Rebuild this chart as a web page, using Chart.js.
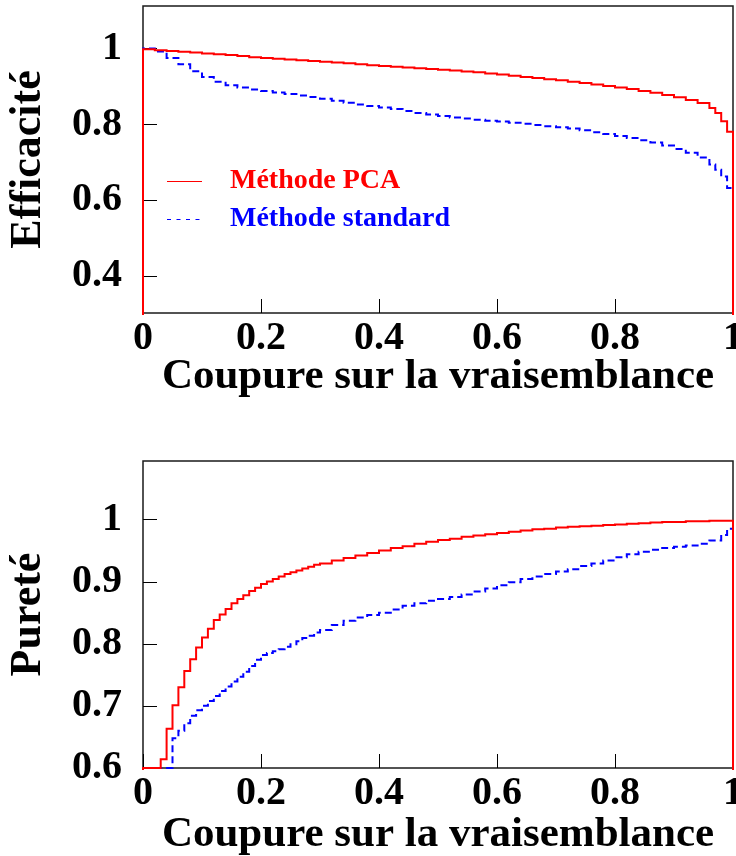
<!DOCTYPE html>
<html>
<head>
<meta charset="utf-8">
<script src="https://cdn.jsdelivr.net/npm/chart.js@4/dist/chart.umd.min.js"></script>
<style>
    html, body { margin: 0; padding: 0; background: #fff; overflow: hidden; }
    #wrap { position: relative; width: 736px; height: 856px; }
    canvas { position: absolute; left: 0; }
    #effChart { top: 0; }
    #purChart { top: 420px; }
</style>
</head>
<body>
<div id="wrap">
    <canvas id="effChart" width="736" height="420"></canvas>
    <canvas id="purChart" width="736" height="436"></canvas>
</div>
<script>
const seriesNames = ['Méthode PCA', 'Méthode standard'];
const xTickValues = [0, 0.2, 0.4, 0.6, 0.8, 1];
const effTickValues = [0.4, 0.6, 0.8, 1];
const purTickValues = [0.6, 0.7, 0.8, 0.9, 1];

// left edges of the bins, efficiency panel
const effCut = [0.00, 0.02, 0.04, 0.06, 0.08, 0.10, 0.12, 0.14, 0.16, 0.18,
    0.20, 0.22, 0.24, 0.26, 0.28, 0.30, 0.32, 0.34, 0.36, 0.38,
    0.40, 0.42, 0.44, 0.46, 0.48, 0.50, 0.52, 0.54, 0.56, 0.58,
    0.60, 0.62, 0.64, 0.66, 0.68, 0.70, 0.72, 0.74, 0.76, 0.78,
    0.80, 0.82, 0.84, 0.86, 0.88, 0.90, 0.92, 0.94,
    0.96, 0.97, 0.98, 0.99];
const effPCA = [0.998, 0.995, 0.993, 0.991, 0.989, 0.987, 0.985, 0.983, 0.980, 0.977,
    0.975, 0.973, 0.971, 0.969, 0.967, 0.965, 0.963, 0.961, 0.958, 0.956,
    0.954, 0.952, 0.950, 0.948, 0.946, 0.944, 0.942, 0.939, 0.937, 0.934,
    0.931, 0.928, 0.925, 0.922, 0.919, 0.916, 0.912, 0.909, 0.905, 0.901,
    0.897, 0.893, 0.888, 0.883, 0.877, 0.871, 0.864, 0.856,
    0.843, 0.830, 0.808, 0.780];
const effStd = [1.000, 0.992, 0.975, 0.958, 0.940, 0.925, 0.912, 0.903, 0.897, 0.892,
    0.888, 0.884, 0.880, 0.876, 0.872, 0.867, 0.862, 0.857, 0.852, 0.848,
    0.844, 0.840, 0.835, 0.830, 0.826, 0.822, 0.818, 0.815, 0.812, 0.809,
    0.807, 0.804, 0.801, 0.798, 0.795, 0.792, 0.789, 0.784, 0.779, 0.774,
    0.769, 0.764, 0.758, 0.752, 0.744, 0.735, 0.725, 0.712,
    0.694, 0.680, 0.662, 0.632];

// left edges of the bins, purity panel
const purCut = [0.00, 0.01, 0.02, 0.03, 0.04, 0.05, 0.06, 0.07, 0.08, 0.09,
    0.10, 0.11, 0.12, 0.13, 0.14, 0.15, 0.16, 0.17, 0.18, 0.19,
    0.20, 0.21, 0.22, 0.23, 0.24, 0.25, 0.26, 0.27, 0.28, 0.29, 0.30,
    0.32, 0.34, 0.36, 0.38, 0.40, 0.42, 0.44, 0.46, 0.48, 0.50,
    0.52, 0.54, 0.56, 0.58, 0.60, 0.62, 0.64, 0.66, 0.68, 0.70,
    0.72, 0.74, 0.76, 0.78, 0.80, 0.82, 0.84, 0.86, 0.88, 0.90,
    0.92, 0.94, 0.96, 0.98, 0.99];
const purPCA = [0.600, 0.600, 0.600, 0.614, 0.663, 0.701, 0.730, 0.756, 0.775, 0.794,
    0.810, 0.824, 0.838, 0.847, 0.856, 0.865, 0.872, 0.878, 0.885, 0.890,
    0.896, 0.900, 0.904, 0.908, 0.912, 0.915, 0.918, 0.921, 0.924, 0.927, 0.929,
    0.934, 0.938, 0.942, 0.946, 0.950, 0.954, 0.957, 0.961, 0.964, 0.967,
    0.969, 0.972, 0.974, 0.976, 0.978, 0.980, 0.982, 0.984, 0.985, 0.987,
    0.988, 0.989, 0.990, 0.991, 0.992, 0.993, 0.994, 0.995, 0.996, 0.996,
    0.997, 0.997, 0.998, 0.998, 0.998];
const purStd = [0.600, 0.600, 0.600, 0.600, 0.600, 0.648, 0.660, 0.672, 0.684, 0.693,
    0.700, 0.708, 0.716, 0.724, 0.731, 0.739, 0.747, 0.755, 0.764, 0.774,
    0.782, 0.785, 0.788, 0.791, 0.795, 0.799, 0.804, 0.809, 0.813, 0.818, 0.822,
    0.830, 0.837, 0.842, 0.846, 0.850, 0.855, 0.861, 0.865, 0.869, 0.872,
    0.875, 0.879, 0.884, 0.889, 0.894, 0.899, 0.904, 0.908, 0.912, 0.916,
    0.920, 0.925, 0.929, 0.934, 0.939, 0.944, 0.948, 0.951, 0.954, 0.956,
    0.958, 0.961, 0.966, 0.975, 0.985];

const serif = '"Liberation Serif", "Times New Roman", serif';
const tickFont = { family: serif, size: 40, weight: 'bold', lineHeight: 1 };
const titleFont = { family: serif, size: 43, weight: 'bold', lineHeight: 1 };

// histogram outline: rises from zero at the first edge, drops back at x = 1
const toSteps = (edges, values) => {
    const pts = [{ x: edges[0], y: 0 }];
    edges.forEach((x, i) => pts.push({ x: x, y: values[i] }));
    pts.push({ x: 1, y: values[values.length - 1] });
    pts.push({ x: 1, y: 0 });
    return pts;
};

const framePlugin = {
    id: 'frame',
    beforeDatasetsDraw(chart) {
        const { ctx, chartArea: a, scales } = chart;
        ctx.save();
        ctx.strokeStyle = '#1a1a1a';
        ctx.lineWidth = 1.5;
        ctx.strokeRect(a.left, a.top, a.right - a.left, a.bottom - a.top);
        ctx.lineWidth = 1;
        ctx.strokeStyle = '#000';
        ctx.beginPath();
        scales.y.ticks.forEach(t => {
            const y = Math.round(scales.y.getPixelForValue(t.value)) + 0.5;
            ctx.moveTo(a.left, y);
            ctx.lineTo(a.left + 14, y);
        });
        scales.x.ticks.forEach(t => {
            const x = Math.round(scales.x.getPixelForValue(t.value)) + 0.5;
            ctx.moveTo(x, a.bottom);
            ctx.lineTo(x, a.bottom - 14);
        });
        ctx.stroke();
        ctx.restore();
    }
};

const legendPlugin = {
    id: 'innerLegend',
    afterDatasetsDraw(chart) {
        const { ctx, chartArea: a } = chart;
        ctx.save();
        ctx.font = 'bold 28px ' + serif;
        ctx.textBaseline = 'middle';
        chart.data.datasets.forEach((ds, i) => {
            const y = a.top + 175 + i * 38;
            ctx.strokeStyle = ds.borderColor;
            ctx.lineWidth = 1;
            ctx.setLineDash(i === 0 ? [] : [4, 5.5]);
            ctx.beginPath();
            ctx.moveTo(a.left + 24, y + 0.5);
            ctx.lineTo(a.left + 59, y + 0.5);
            ctx.stroke();
            ctx.setLineDash([]);
            ctx.fillStyle = ds.borderColor;
            ctx.fillText(ds.label, a.left + 87, y);
        });
        ctx.restore();
    }
};

const makeChart = (id, yTitle, yMin, yMax, yTicks, pca, std, opts) => {
    const ctx = document.getElementById(id).getContext('2d');
    return new Chart(ctx, {
        type: 'line',
        data: {
            datasets: [
                {
                    label: seriesNames[0],
                    data: pca,
                    borderColor: '#ff0000',
                    borderWidth: 2,
                    stepped: 'before',
                    pointRadius: 0,
                    clip: 2,
                    fill: false
                },
                {
                    label: seriesNames[1],
                    data: std,
                    borderColor: '#0000ff',
                    borderWidth: 2,
                    borderDash: [7, 4],
                    stepped: 'before',
                    pointRadius: 0,
                    clip: 1,
                    fill: false
                }
            ]
        },
        options: {
            responsive: false,
            animation: false,
            devicePixelRatio: 1,
            layout: { padding: opts.padding },
            plugins: {
                legend: { display: false },
                tooltip: { enabled: false }
            },
            scales: {
                x: {
                    type: 'linear',
                    min: 0,
                    max: 1,
                    afterBuildTicks: s => { s.ticks = xTickValues.map(v => ({ value: v })); },
                    afterFit: s => { s.height = opts.xHeight; s.paddingLeft = 0; s.paddingRight = 0; },
                    grid: { display: false, drawTicks: false },
                    border: { display: false },
                    ticks: {
                        font: tickFont, color: '#000', padding: 6,
                        maxRotation: 0, autoSkip: false,
                        callback: v => String(v)
                    },
                    title: {
                        display: true, text: 'Coupure sur la vraisemblance',
                        font: titleFont, color: '#000',
                        padding: { top: 0, bottom: opts.xTitlePad }
                    }
                },
                y: {
                    type: 'linear',
                    min: yMin,
                    max: yMax,
                    afterBuildTicks: s => { s.ticks = yTicks.map(v => ({ value: v })); },
                    afterFit: s => { s.width = 143; s.paddingTop = 0; s.paddingBottom = 0; },
                    grid: { display: false, drawTicks: false },
                    border: { display: false },
                    ticks: {
                        font: tickFont, color: '#000', padding: 21,
                        autoSkip: false,
                        callback: v => String(v)
                    },
                    title: {
                        display: true, text: yTitle,
                        font: { family: serif, size: 44, weight: 'bold', lineHeight: 1 },
                        color: '#000',
                        padding: { top: 7, bottom: 0 }
                    }
                }
            }
        },
        plugins: opts.plugins
    });
};

makeChart('effChart', 'Efficacité', 0.302, 1.112, effTickValues,
    toSteps(effCut, effPCA), toSteps(effCut, effStd),
    { padding: { top: 6, left: 0, right: 3, bottom: 17 }, xHeight: 90, xTitlePad: 5,
      plugins: [framePlugin, legendPlugin] });

makeChart('purChart', 'Pureté', 0.6, 1.094, purTickValues,
    toSteps(purCut, purPCA), toSteps(purCut, purStd),
    { padding: { top: 41, left: 0, right: 3, bottom: 0 }, xHeight: 88, xTitlePad: 0,
      plugins: [framePlugin] });
</script>
</body>
</html>
